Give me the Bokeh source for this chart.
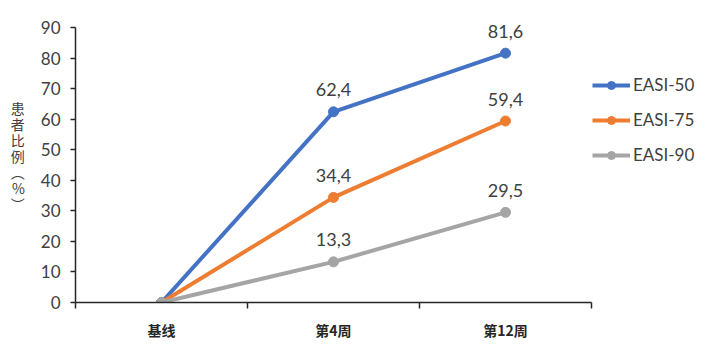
from bokeh.plotting import figure
from bokeh.models import Range1d, FixedTicker, Legend, LegendItem, ColumnDataSource
from bokeh.core.properties import value
from bokeh.embed import file_html
from bokeh.resources import INLINE

categories = ["基线", "第4周", "第12周"]
series_names = ["EASI-50", "EASI-75", "EASI-90"]
easi50 = [0, 62.4, 81.6]
easi75 = [0, 34.4, 59.4]
easi90 = [0, 13.3, 29.5]
colors = ["#4472C4", "#ED7D31", "#A5A5A5"]
y_ticks = [0, 10, 20, 30, 40, 50, 60, 70, 80, 90]
y_label = "患\n者\n比\n例\n︵\n%\n︶"

xs = [i + 0.5 for i in range(len(categories))]

axis_px = 275          # pixels from 0 to 90
frame_h = 293          # extra room above 90 for the top data label
y_view_max = 90 * frame_h / axis_px

p = figure(frame_width=516, frame_height=frame_h, output_backend="svg", toolbar_location=None,
           x_range=Range1d(0, len(categories)), y_range=Range1d(0, y_view_max),
           min_border_left=75, min_border_right=0, min_border_top=9, min_border_bottom=52)
p.outline_line_color = None
p.xgrid.grid_line_color = None
p.ygrid.grid_line_color = None
p.background_fill_color = "white"
p.border_fill_color = "white"

# x axis
p.xaxis.ticker = FixedTicker(ticks=xs, minor_ticks=list(range(len(categories) + 1)))
p.xaxis.major_label_overrides = {x: c for x, c in zip(xs, categories)}
p.xaxis.major_tick_out = 0
p.xaxis.major_tick_in = 0
p.xaxis.minor_tick_out = 6
p.xaxis.minor_tick_in = 0
p.xaxis.minor_tick_line_color = "#262626"
p.xaxis.minor_tick_line_width = 1.5
p.xaxis.axis_line_color = "#262626"
p.xaxis.axis_line_width = 1.5
p.xaxis.major_label_standoff = 11
p.xaxis.major_label_text_font = "Noto Sans CJK SC"
p.xaxis.major_label_text_font_style = "bold"
p.xaxis.major_label_text_font_size = "14px"
p.xaxis.major_label_text_color = "#262626"

# y axis
p.yaxis.ticker = FixedTicker(ticks=y_ticks, minor_ticks=[])
p.yaxis.bounds = (0, 90)
p.yaxis.major_tick_out = 5
p.yaxis.major_tick_in = 0
p.yaxis.major_tick_line_color = "#262626"
p.yaxis.major_tick_line_width = 1.5
p.yaxis.axis_line_color = "#262626"
p.yaxis.axis_line_width = 1.5
p.yaxis.major_label_standoff = 10
p.yaxis.major_label_text_font = "Lato"
p.yaxis.major_label_text_font_size = "17px"
p.yaxis.major_label_text_color = "#404040"
p.yaxis.axis_label = y_label
p.yaxis.axis_label_orientation = "horizontal"
p.yaxis.axis_label_text_font = "Noto Sans CJK SC"
p.yaxis.axis_label_text_font_style = "normal"
p.yaxis.axis_label_text_font_size = "14px"
p.yaxis.axis_label_text_line_height = 0.8
p.yaxis.axis_label_text_color = "#404040"
p.yaxis.axis_label_standoff = 13

items = []
for name, vals, col in zip(series_names, [easi50, easi75, easi90], colors):
    src = ColumnDataSource(dict(x=xs, y=vals,
                                lab=[("" if v == 0 else f"{v:.1f}".replace(".", ",")) for v in vals]))
    r1 = p.line("x", "y", source=src, line_color=col, line_width=4)
    r2 = p.scatter("x", "y", source=src, size=10, fill_color=col, line_color=col)
    p.text("x", "y", text="lab", source=src, text_align="center", text_baseline="alphabetic",
           y_offset=-22, text_font=value("Lato"), text_font_size="18px", text_color="#404040")
    items.append(LegendItem(label=name, renderers=[r1, r2]))

legend = Legend(items=items, location=(1, 137), glyph_width=38, glyph_height=20,
                label_height=20, spacing=14, padding=0, margin=0, label_standoff=3,
                label_text_font="Lato", label_text_font_size="17px", label_text_color="#404040",
                border_line_alpha=0, background_fill_alpha=0)
p.add_layout(legend, "right")

open("out.html", "w").write(file_html(p, INLINE))
